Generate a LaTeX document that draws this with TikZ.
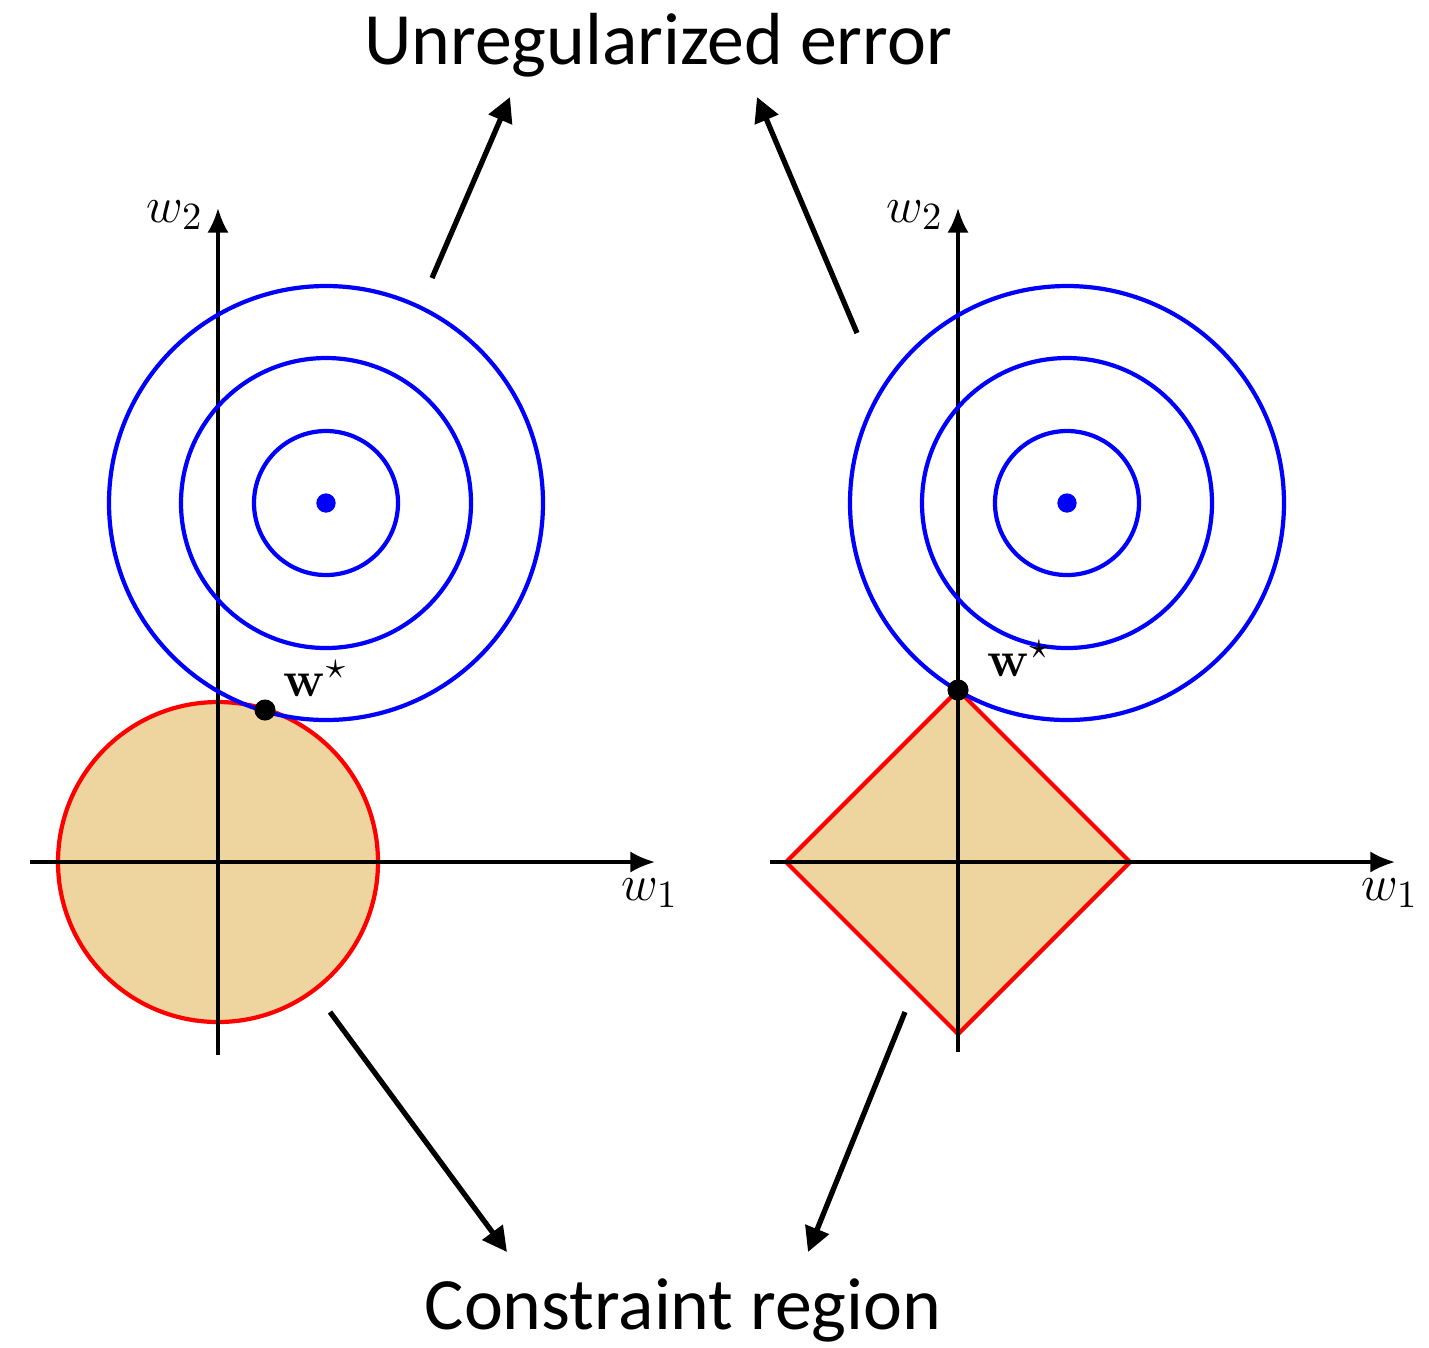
\documentclass[tikz,border=0pt]{standalone}
\usepackage[no-math]{fontspec}
\setmainfont{Carlito}
\usepackage{tikz}
\usetikzlibrary{arrows.meta, positioning}
\definecolor{regionfill}{RGB}{238,212,158}

\begin{document}
\begin{tikzpicture}[
    axis/.style={-{Latex[length=7pt,width=6pt]}, line width=0.9pt},
    contour/.style={draw=blue, line width=1.2pt},
    region/.style={draw=red, fill=regionfill, line width=1.2pt},
    pointer/.style={-{Triangle[length=7pt,width=7pt]}, line width=1.5pt},
    caption/.style={font=\fontsize{21}{25}\selectfont, inner sep=0pt},
    mlabel/.style={font=\fontsize{15}{18}\selectfont, inner sep=1pt},
    dot/.style={circle, fill, inner sep=0pt, minimum size=6pt}
]
\useasboundingbox (0,0) rectangle (14.29,-13.47);

% Left: L2 ball
\coordinate (o1) at (2.18,-8.62);
\coordinate (c1) at (3.26,-5.03);
\filldraw[region] (o1) circle (1.60);
\draw[axis] (0.30,-8.62) -- (6.55,-8.62);
\draw[axis] (2.18,-10.55) -- (2.18,-2.08);
\foreach \r in {0.72,1.45,2.17}
    \draw[contour] (c1) circle (\r);
\node[dot, blue, minimum size=5.5pt] at (c1) {};
\node[dot] (ws1) at (2.65,-7.10) {};
\node[mlabel, right=1pt of ws1, yshift=9pt] {$\mathbf{w}^\star$};
\node[mlabel] (w2a) at (1.75,-2.15) {$w_2$};
\node[mlabel] (w1a) at (6.50,-8.93) {$w_1$};

% Right: L1 ball
\coordinate (o2) at (9.58,-8.62);
\coordinate (c2) at (10.67,-5.03);
\filldraw[region] (7.86,-8.62) -- (9.58,-6.90) -- (11.30,-8.62) -- (9.58,-10.34) -- cycle;
\draw[axis] (7.70,-8.62) -- (13.95,-8.62);
\draw[axis] (9.58,-10.52) -- (9.58,-2.08);
\foreach \r in {0.72,1.45,2.17}
    \draw[contour] (c2) circle (\r);
\node[dot, blue, minimum size=5.5pt] at (c2) {};
\node[dot] (ws2) at (9.58,-6.90) {};
\node[mlabel, right=4pt of ws2, yshift=9pt] {$\mathbf{w}^\star$};
\node[mlabel] (w2b) at (9.15,-2.15) {$w_2$};
\node[mlabel] (w1b) at (13.90,-8.93) {$w_1$};

% Captions and pointers
\node[caption] (err) at (6.58,-0.45) {Unregularized error};
\node[caption] (reg) at (6.83,-13.10) {Constraint region};
\coordinate (e1) at (4.32,-2.78);
\coordinate (e2) at (8.57,-3.33);
\coordinate (r1) at (3.30,-10.12);
\coordinate (r2) at (9.05,-10.12);
\coordinate (e1t) at (5.10,-0.97);
\coordinate (e2t) at (7.57,-0.97);
\coordinate (r1t) at (5.07,-12.52);
\coordinate (r2t) at (8.08,-12.52);
\draw[pointer] (e1) -- (e1t);
\draw[pointer] (e2) -- (e2t);
\draw[pointer] (r1) -- (r1t);
\draw[pointer] (r2) -- (r2t);

\end{tikzpicture}
\end{document}
